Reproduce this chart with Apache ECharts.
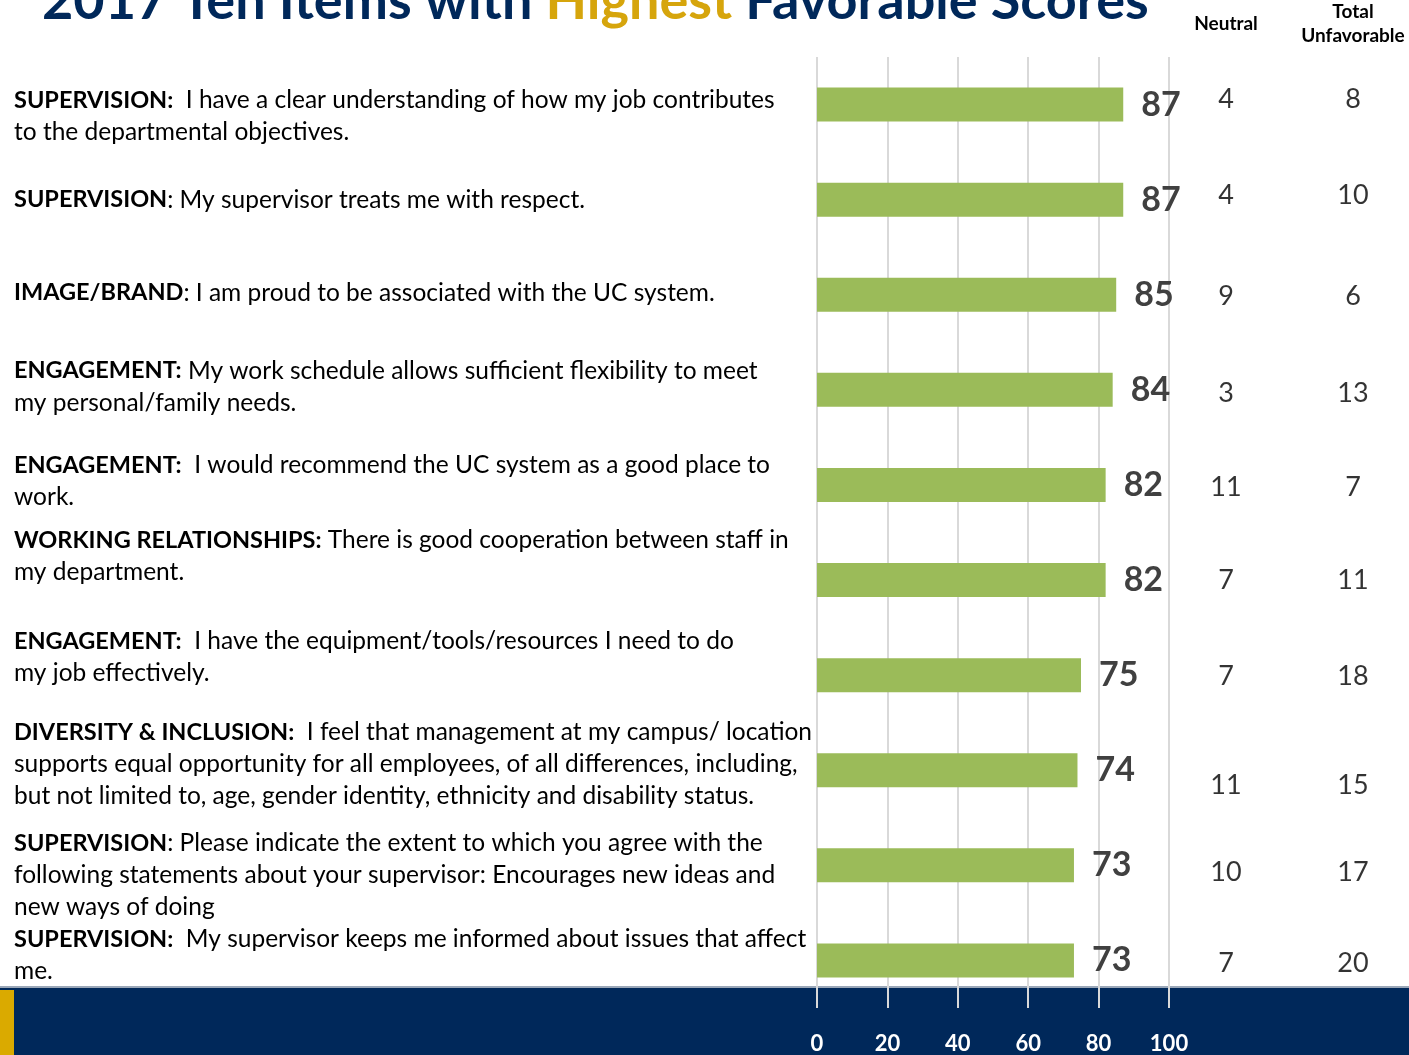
<!DOCTYPE html>
<html>
<head>
<meta charset="utf-8">
<title>2017 Ten Items with Highest Favorable Scores</title>
<script src="https://cdn.jsdelivr.net/npm/echarts@6/dist/echarts.min.js"></script>
<style>
  html, body { margin: 0; padding: 0; background: #ffffff; }
  #chart { width: 1409px; height: 1055px; }
</style>
</head>
<body>
<div id="chart"></div>
<script>
// Survey items: bold topic prefix and the statement text (line breaks as shown)
const topics = [
  'SUPERVISION:', 'SUPERVISION', 'IMAGE/BRAND', 'ENGAGEMENT:', 'ENGAGEMENT:',
  'WORKING RELATIONSHIPS:', 'ENGAGEMENT:', 'DIVERSITY & INCLUSION:', 'SUPERVISION', 'SUPERVISION:'
];
const statements = [
  '  I have a clear understanding of how my job contributes\nto the departmental objectives.',
  ': My supervisor treats me with respect.',
  ': I am proud to be associated with the UC system.',
  ' My work schedule allows sufficient flexibility to meet\nmy personal/family needs.',
  '  I would recommend the UC system as a good place to\nwork.',
  ' There is good cooperation between staff in\nmy department.',
  '  I have the equipment/tools/resources I need to do\nmy job effectively.',
  '  I feel that management at my campus/ location\nsupports equal opportunity for all employees, of all differences, including,\nbut not limited to, age, gender identity, ethnicity and disability status.',
  ': Please indicate the extent to which you agree with the\nfollowing statements about your supervisor: Encourages new ideas and\nnew ways of doing',
  '  My supervisor keeps me informed about issues that affect\nme.'
];
const favorable = [87, 87, 85, 84, 82, 82, 75, 74, 73, 73];
const neutral = [4, 4, 9, 3, 11, 7, 7, 11, 10, 7];
const unfavorable = [8, 10, 6, 13, 7, 11, 18, 15, 17, 20];
const columnHeads = ['Neutral', 'Total\nUnfavorable'];
const xTicks = [0, 20, 40, 60, 80, 100];

// Small vertical nudges for the wrapped item text and the side-column numbers
const textShift = [12, 0, -2, -3, -4, -24, -18, -6, 10, -5];
const numShift = [-5, -4, 2, 3, 2, 0, 1, 15, 7, 3];

const FONT = 'Lato, "Open Sans", "Noto Sans", sans-serif';
const NAVY = '#00285A';
const GOLD = '#D6A50C';

const rowLabels = topics.map((t, i) => {
  const s = textShift[i];
  return {
    value: '{b|' + t + '}' + statements[i],
    textStyle: { align: 'left', padding: s >= 0 ? [2 * s, 0, 0, 0] : [0, 0, -2 * s, 0] }
  };
});

const sideData = [];
neutral.forEach((v, i) => sideData.push({ value: [0, i, v], label: { offset: [0, numShift[i]] } }));
unfavorable.forEach((v, i) => sideData.push({ value: [1, i, v], label: { offset: [0, numShift[i]] } }));

const chart = echarts.init(document.getElementById('chart'), null, { renderer: 'canvas' });

chart.setOption({
  backgroundColor: '#ffffff',
  animation: false,
  textStyle: { fontFamily: FONT },
  graphic: [
    // footer band
    { type: 'rect', z: -10, silent: true, shape: { x: 0, y: 988, width: 1409, height: 67 }, style: { fill: NAVY } },
    { type: 'rect', z: -9, silent: true, shape: { x: 0, y: 986, width: 1409, height: 2 }, style: { fill: '#9aa7b8' } },
    { type: 'rect', z: -8, silent: true, shape: { x: 0, y: 990, width: 14, height: 65 }, style: { fill: '#DAAA00' } },
    // heading (partly above the page edge)
    {
      type: 'text', z: 10, silent: true,
      style: {
        x: 42, y: -25,
        verticalAlign: 'top',
        text: '{a|2017 Ten Items with }{h|Highest}{a| Favorable Scores}',
        rich: {
          a: { fontFamily: FONT, fontSize: 54, fontWeight: 'bold', fill: NAVY },
          h: { fontFamily: FONT, fontSize: 54, fontWeight: 'bold', fill: GOLD }
        }
      }
    }
  ],
  grid: [
    { left: 817, right: 1409 - 1169, top: 57, bottom: 47, containLabel: false, outerBoundsMode: 'none' },
    { left: 1226, right: 1409 - 1353, top: 57, bottom: 47, containLabel: false, outerBoundsMode: 'none' }
  ],
  xAxis: [
    {
      gridIndex: 0, type: 'value', min: 0, max: 100, interval: 20,
      axisLine: { show: false }, axisTick: { show: false },
      splitLine: { show: true, lineStyle: { color: '#d9d9d9', width: 2 } },
      axisLabel: {
        color: '#ffffff', fontSize: 22, fontWeight: 'bold', margin: 25, fontFamily: FONT,
        formatter: v => (xTicks.indexOf(v) >= 0 ? String(v) : '')
      }
    },
    {
      gridIndex: 1, type: 'category', data: columnHeads, position: 'top', boundaryGap: false,
      axisLine: { show: false }, axisTick: { show: false }, splitLine: { show: false },
      axisLabel: {
        color: '#000000', fontSize: 19, fontWeight: 'bold', lineHeight: 24, fontFamily: FONT,
        margin: 33, verticalAlign: 'middle', align: 'center', interval: 0
      }
    }
  ],
  yAxis: [
    {
      gridIndex: 0, type: 'category', inverse: true, data: rowLabels,
      axisLine: { show: false }, axisTick: { show: false }, splitLine: { show: false },
      axisLabel: {
        align: 'left', margin: 803, color: '#000000', fontSize: 24.5, lineHeight: 32,
        fontFamily: FONT, interval: 0,
        rich: { b: { fontWeight: 'bold', fontSize: 23.5, lineHeight: 32, color: '#000000', fontFamily: FONT } }
      }
    },
    {
      gridIndex: 1, type: 'category', inverse: true, data: topics.map((t, i) => i),
      show: false
    }
  ],
  series: [
    {
      type: 'bar', xAxisIndex: 0, yAxisIndex: 0, data: favorable, barWidth: 34,
      itemStyle: { color: '#9BBB59' },
      label: {
        show: true, position: 'right', distance: 18, color: '#404040',
        fontSize: 34, fontWeight: 'bold', fontFamily: FONT
      }
    },
    {
      type: 'scatter', xAxisIndex: 1, yAxisIndex: 1, data: sideData, symbolSize: 0,
      label: {
        show: true, position: 'inside', color: '#000000', fontSize: 27, fontFamily: FONT,
        formatter: p => String(p.value[2])
      }
    }
  ]
});
</script>
</body>
</html>
